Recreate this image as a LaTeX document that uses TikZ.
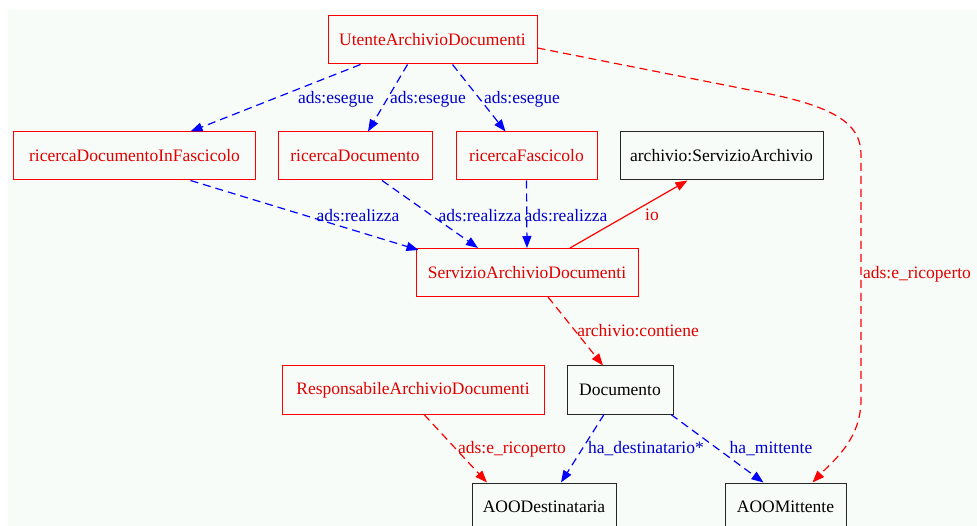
\documentclass[tikz,border=0pt]{standalone}
\usepackage{fontspec}
\setmainfont{Liberation Serif}
\usetikzlibrary{arrows.meta}

\definecolor{canvas}{RGB}{248,252,248}

\tikzset{
  box/.style={draw, line width=1bp, minimum height=48bp, inner xsep=0pt,
              font=\fontsize{17.5bp}{20bp}\selectfont},
  redbox/.style={box, draw=red, text=red!88!black},
  blackbox/.style={box, draw=black!85, text=black},
  lbl/.style={inner sep=0pt, font=\fontsize{17.5bp}{20bp}\selectfont},
  bluelbl/.style={lbl, text=blue!80!black},
  redlbl/.style={lbl, text=red!88!black},
  link/.style={line width=1.2bp, -{Triangle[length=12bp, width=9bp]}},
  bluedash/.style={link, draw=blue, dash pattern=on 8bp off 5bp},
  reddash/.style={link, draw=red, dash pattern=on 8bp off 5bp},
  redsolid/.style={link, draw=red},
}

\begin{document}
\begin{tikzpicture}[x=1bp, y=-1bp]
  % page frame and tinted canvas
  \useasboundingbox (0,0) rectangle (977,526);
  \clip (0,0) rectangle (977,526);
  \fill[white] (0,0) rectangle (977,526);
  \fill[canvas] (8,10) rectangle (977,526);

  % nodes
  \node[redbox, minimum width=209bp]   (ut)   at (432.5,40)  {UtenteArchivioDocumenti};
  \node[redbox, minimum width=241bp]   (rdif) at (134.5,156) {ricercaDocumentoInFascicolo};
  \node[redbox, minimum width=154bp]   (rd)   at (355,156)   {ricercaDocumento};
  \node[redbox, minimum width=141bp]   (rf)   at (526.5,156) {ricercaFascicolo};
  \node[blackbox, minimum width=203bp] (asa)  at (721.5,156) {archivio:ServizioArchivio};
  \node[redbox, minimum width=222bp]   (sad)  at (527,272.5) {ServizioArchivioDocumenti};
  \node[blackbox, minimum width=106bp] (doc)  at (620,390)   {Documento};
  \node[redbox, minimum width=262bp]   (resp) at (413,390)   {ResponsabileArchivioDocumenti};
  \node[blackbox, minimum width=144bp] (aood) at (544,507)   {AOODestinataria};
  \node[blackbox, minimum width=121bp] (mit)  at (785.5,507) {AOOMittente};

  % connectors
  \draw[bluedash] ([xshift=-72bp]ut.south) -- ([xshift=56bp]rdif.north);
  \draw[bluedash] ([xshift=-25bp]ut.south) -- ([xshift=13bp]rd.north);
  \draw[bluedash] ([xshift=20bp]ut.south)  -- ([xshift=-21bp]rf.north);

  \draw[bluedash] ([xshift=56bp]rdif.south) -- ([xshift=3bp,yshift=-2bp]sad.north west);
  \draw[bluedash] ([xshift=27bp]rd.south)   -- ([xshift=-49bp]sad.north);
  \draw[bluedash] (rf.south) -- (sad.north);

  \draw[redsolid] ([xshift=43bp]sad.north) -- ([xshift=-34bp]asa.south);
  \draw[reddash]  ([xshift=21bp]sad.south) -- ([xshift=-17bp]doc.north);

  \draw[reddash]  ([xshift=11bp]resp.south) -- ([xshift=-57bp]aood.north);
  \draw[bluedash] ([xshift=-16bp]doc.south) -- ([xshift=17bp]aood.north);
  \draw[bluedash] ([xshift=51bp]doc.south)  -- ([xshift=-22bp]mit.north);

  \coordinate (bendA) at (770,94);
  \coordinate (bendB) at (861,155);
  \coordinate (bendC) at (861,400);
  \draw[reddash] ([yshift=-8bp]ut.east) -- (bendA)
        .. controls (843,109) and (861,128) .. (bendB) -- (bendC)
        .. controls (861,440) and (832,462) .. ([xshift=27bp]mit.north);

  % connector labels
  \node[bluelbl] (l1)  at (336,99)  {ads:esegue};
  \node[bluelbl] (l2)  at (428,99)  {ads:esegue};
  \node[bluelbl] (l3)  at (522,99)  {ads:esegue};
  \node[bluelbl] (l4)  at (358,216) {ads:realizza};
  \node[bluelbl] (l5)  at (480,216) {ads:realizza};
  \node[bluelbl] (l6)  at (566,216) {ads:realizza};
  \node[redlbl]  (l7)  at (652,215) {io};
  \node[redlbl]  (l8)  at (917,274) {ads:e\_ricoperto};
  \node[redlbl]  (l9)  at (638,331) {archivio:contiene};
  \node[redlbl]  (l10) at (512,449) {ads:e\_ricoperto};
  \node[bluelbl] (l11) at (646,449) {ha\_destinatario*};
  \node[bluelbl] (l12) at (771,449) {ha\_mittente};
\end{tikzpicture}
\end{document}
